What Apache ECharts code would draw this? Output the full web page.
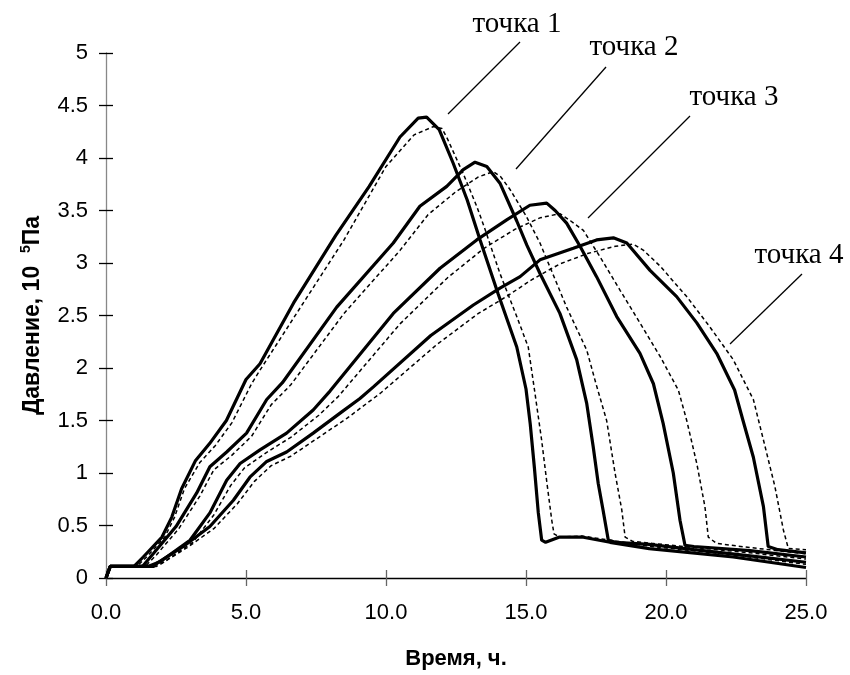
<!DOCTYPE html>
<html>
<head>
<meta charset="utf-8">
<script src="https://cdn.jsdelivr.net/npm/echarts@6/dist/echarts.min.js"></script>
<style>
  html, body { margin: 0; padding: 0; background: #fff; }
  #chart { width: 850px; height: 675px; }
</style>
</head>
<body>
<div id="chart"></div>
<script>
// Point labels
var pointNames = ['точка 1', 'точка 2', 'точка 3', 'точка 4'];

// Measured curves (time, h ; pressure, 10^5 Pa) - solid lines
var solid1 = [[0,0],[0.15,0.11],[1.0,0.11],[1.33,0.2],[2.0,0.39],[2.35,0.58],[2.7,0.85],[3.2,1.12],[3.7,1.28],[4.3,1.5],[5.0,1.89],[5.5,2.04],[6.7,2.62],[8.2,3.26],[9.4,3.73],[10.5,4.2],[11.15,4.38],[11.45,4.39],[11.9,4.27],[12.4,3.95],[12.9,3.6],[13.36,3.22],[14.0,2.71],[14.67,2.2],[15.0,1.8],[15.15,1.47],[15.3,1.05],[15.44,0.62],[15.56,0.36],[15.7,0.34],[16.2,0.39],[17.0,0.39],[18.0,0.34],[19.4,0.28],[22.4,0.2],[25,0.1]];
var solid2 = [[0,0],[0.15,0.11],[1.3,0.11],[1.7,0.235],[2.5,0.49],[3.24,0.81],[3.71,1.06],[4.31,1.2],[5.02,1.38],[5.74,1.7],[6.3,1.86],[8.24,2.58],[10.26,3.19],[11.21,3.54],[12.17,3.73],[12.76,3.89],[13.18,3.96],[13.6,3.92],[14.07,3.76],[14.67,3.4],[15.03,3.17],[15.5,2.9],[16.21,2.52],[16.81,2.08],[17.17,1.66],[17.4,1.25],[17.58,0.9],[17.75,0.65],[17.94,0.36],[18.2,0.34],[19.4,0.32],[21.0,0.27],[23.0,0.21],[25,0.15]];
var solid3 = [[0,0],[0.15,0.11],[1.5,0.11],[1.93,0.155],[3.0,0.36],[3.71,0.62],[4.31,0.93],[4.79,1.09],[5.5,1.22],[6.45,1.38],[7.4,1.6],[8.0,1.78],[10.26,2.52],[11.93,2.95],[13.24,3.22],[14.31,3.41],[15.14,3.55],[15.74,3.57],[16.04,3.5],[16.45,3.38],[16.93,3.16],[17.52,2.87],[18.24,2.49],[19.07,2.14],[19.55,1.85],[19.9,1.47],[20.26,1.0],[20.5,0.55],[20.68,0.31],[21.0,0.3],[23.0,0.26],[25,0.2]];
var solid4 = [[0,0],[0.15,0.11],[1.7,0.11],[1.81,0.14],[2.76,0.3],[3.71,0.49],[4.55,0.74],[5.14,0.96],[5.74,1.11],[6.45,1.2],[7.4,1.38],[8.36,1.57],[9.07,1.71],[9.55,1.82],[11.6,2.31],[13.12,2.6],[14.07,2.76],[14.79,2.87],[15.5,3.03],[16.69,3.14],[17.52,3.22],[18.12,3.24],[18.6,3.19],[19.43,2.93],[20.38,2.68],[21.1,2.43],[21.81,2.14],[22.45,1.79],[22.75,1.5],[23.12,1.15],[23.48,0.68],[23.65,0.3],[24.0,0.27],[25,0.24]];

// dashed lines
var dashed1 = [[0,0],[0.15,0.11],[1.1,0.11],[1.45,0.2],[2.1,0.39],[2.45,0.58],[2.8,0.85],[3.35,1.1],[3.9,1.26],[4.5,1.48],[5.2,1.85],[5.5,1.98],[7.0,2.6],[8.5,3.22],[10.0,3.92],[11.0,4.22],[11.7,4.3],[12.0,4.28],[12.2,4.18],[12.76,3.85],[13.24,3.54],[13.5,3.35],[14.07,2.9],[14.67,2.49],[15.08,2.2],[15.32,1.76],[15.56,1.31],[15.74,0.92],[15.92,0.55],[16.0,0.42],[16.2,0.39],[17.0,0.4],[18.0,0.36],[19.5,0.3],[22.4,0.22],[25,0.13]];
var dashed2 = [[0,0],[0.15,0.11],[1.4,0.11],[1.8,0.22],[2.6,0.47],[3.35,0.78],[3.85,1.03],[4.5,1.17],[5.2,1.35],[5.9,1.65],[6.6,1.84],[8.5,2.52],[10.5,3.12],[11.5,3.46],[12.5,3.68],[13.3,3.82],[13.83,3.87],[14.1,3.82],[14.43,3.7],[15.0,3.45],[15.5,3.19],[16.45,2.58],[17.17,2.17],[17.5,1.85],[17.88,1.5],[18.18,1.0],[18.42,0.65],[18.54,0.39],[18.8,0.35],[19.5,0.33],[21.0,0.29],[23.0,0.24],[25,0.18]];
var dashed3 = [[0,0],[0.15,0.11],[1.6,0.11],[2.05,0.15],[3.1,0.34],[3.85,0.6],[4.45,0.88],[4.95,1.05],[5.7,1.19],[6.6,1.34],[7.6,1.55],[8.3,1.73],[10.5,2.42],[12.2,2.86],[13.5,3.14],[14.6,3.32],[15.5,3.43],[16.21,3.47],[16.6,3.4],[17.05,3.31],[17.64,3.06],[18.36,2.74],[19.07,2.43],[19.79,2.11],[20.44,1.79],[20.74,1.5],[21.1,1.09],[21.39,0.68],[21.51,0.39],[21.8,0.33],[23.0,0.29],[25,0.23]];
var dashed4 = [[0,0],[0.15,0.11],[1.8,0.11],[2.0,0.14],[2.9,0.29],[3.85,0.47],[4.7,0.71],[5.3,0.92],[5.9,1.07],[6.6,1.16],[7.6,1.34],[8.6,1.52],[9.8,1.76],[11.8,2.22],[13.3,2.52],[14.3,2.68],[15.2,2.84],[16.2,2.99],[17.2,3.09],[18.2,3.16],[18.83,3.18],[19.2,3.12],[19.79,2.97],[20.74,2.68],[21.57,2.39],[22.4,2.08],[23.12,1.7],[23.54,1.25],[23.89,0.87],[24.19,0.46],[24.37,0.28],[25,0.27]];

var solidSets = [solid1, solid2, solid3, solid4];
var dashedSets = [dashed1, dashed2, dashed3, dashed4];

var chart = echarts.init(document.getElementById('chart'));

function lineSeries(data, dashed) {
  return {
    type: 'line',
    data: data,
    showSymbol: false,
    silent: true,
    z: dashed ? 3 : 4,
    lineStyle: dashed
      ? { color: '#000', width: 1.5, type: [4, 3] }
      : { color: '#000', width: 3.2 }
  };
}

var series = [];
dashedSets.forEach(function (d) { series.push(lineSeries(d, true)); });
solidSets.forEach(function (d) { series.push(lineSeries(d, false)); });

// callout text and leader lines (pixel layout)
var callouts = [
  { x: 517, y: 24, x1: 520, y1: 42, x2: 448, y2: 114 },
  { x: 634, y: 47, x1: 606, y1: 67, x2: 516, y2: 169 },
  { x: 734, y: 97, x1: 690, y1: 116, x2: 588, y2: 218 },
  { x: 799, y: 255, x1: 802, y1: 274, x2: 730, y2: 344 }
];
var graphics = [];
callouts.forEach(function (c, i) {
  graphics.push({
    type: 'text', x: c.x, y: c.y,
    style: {
      text: pointNames[i], fill: '#000',
      font: '29px "Liberation Serif", "Times New Roman", serif',
      align: 'center', verticalAlign: 'middle'
    }
  });
  graphics.push({
    type: 'line',
    shape: { x1: c.x1, y1: c.y1, x2: c.x2, y2: c.y2 },
    style: { stroke: '#000', lineWidth: 1.3 }
  });
});

var font = '"Liberation Sans", Arial, sans-serif';

var option = {
  animation: false,
  backgroundColor: '#fff',
  grid: { left: 106, right: 44, top: 53, bottom: 97, containLabel: false },
  xAxis: [{
    type: 'value', min: 0, max: 25, interval: 5,
    name: 'Время, ч.', nameLocation: 'middle', nameGap: 70,
    nameTextStyle: { fontFamily: font, fontWeight: 'bold', fontSize: 22, color: '#000' },
    axisLine: { lineStyle: { color: '#000', width: 1.3 } },
    axisTick: { length: 8, lineStyle: { color: '#666', width: 1.3 } },
    axisLabel: { fontFamily: font, fontSize: 22, color: '#000', margin: 24,
      formatter: function (v) { return v.toFixed(1); } },
    splitLine: { show: false }
  }, {
    type: 'value', min: 0, max: 25, interval: 5, position: 'bottom',
    axisLine: { show: false },
    axisTick: { inside: true, length: 8, lineStyle: { color: '#666', width: 1.3 } },
    axisLabel: { show: false },
    splitLine: { show: false }
  }],
  yAxis: [{
    type: 'value', min: 0, max: 5, interval: 0.5,
    name: '{a|Давление, 10  }{s|5}{a|Па}', nameLocation: 'middle', nameGap: 60,
    nameTextStyle: {
      rich: {
        a: { fontFamily: font, fontWeight: 'bold', fontSize: 23, color: '#000' },
        s: { fontFamily: font, fontWeight: 'bold', fontSize: 14, color: '#000', padding: [0, 0, 13, 0] }
      }
    },
    axisLine: { lineStyle: { color: '#888', width: 1.3 } },
    axisTick: { length: 7, lineStyle: { color: '#000', width: 1.3 } },
    axisLabel: { fontFamily: font, fontSize: 22, color: '#000', margin: 18 },
    splitLine: { show: false }
  }, {
    type: 'value', min: 0, max: 5, interval: 0.5, position: 'left',
    axisLine: { show: false },
    axisTick: { inside: true, length: 7, lineStyle: { color: '#000', width: 1.3 } },
    axisLabel: { show: false },
    splitLine: { show: false }
  }],
  series: series,
  graphic: graphics
};

chart.setOption(option);
</script>
</body>
</html>
